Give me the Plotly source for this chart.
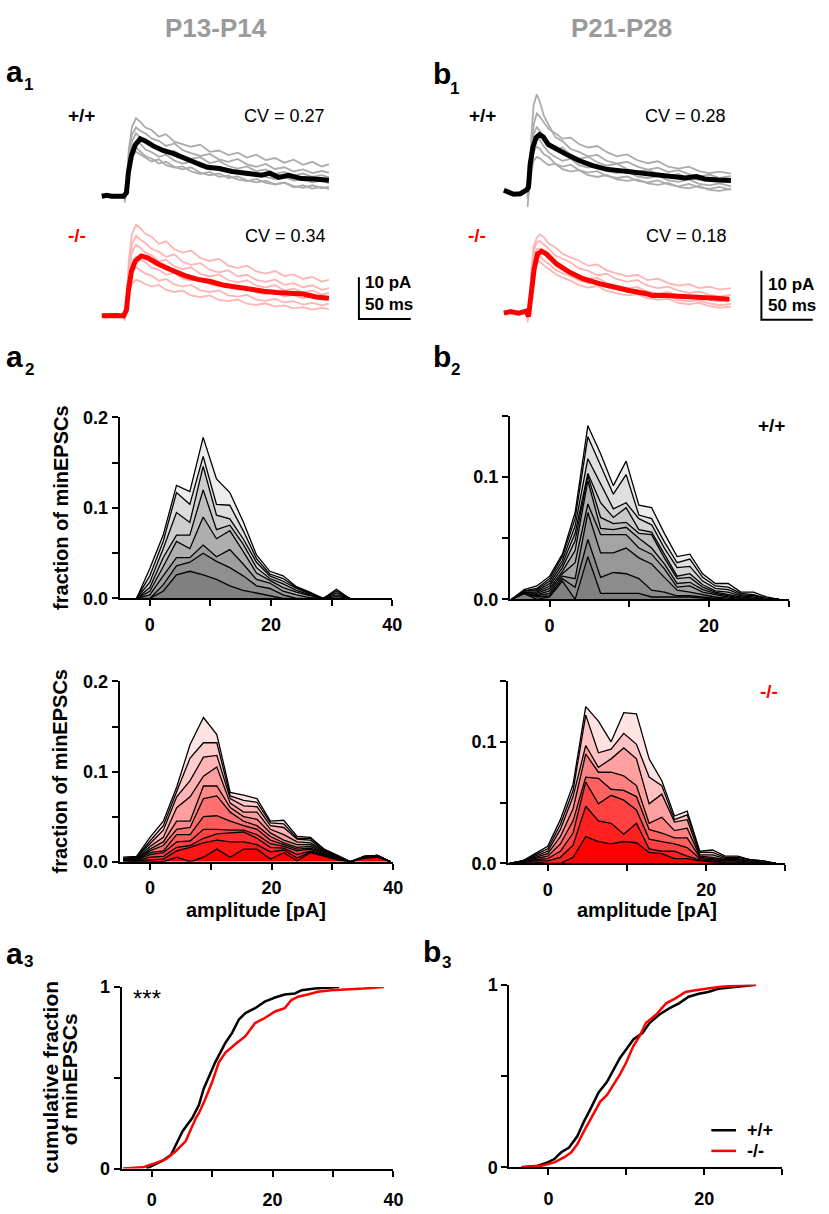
import plotly.graph_objects as go

W, H = 829, 1214
FONT = "Liberation Sans, Arial, Helvetica, sans-serif"

# ------------------------------------------------------------------ data
# a1: P13-P14 example minEPSCs (time in ms, amplitude in pA)
a1_sweep_t = [22, 24, 26, 29, 33, 37, 42, 48, 55, 62, 70, 78, 86, 95, 104, 113,
              122, 131, 140, 149, 158, 167, 176, 185, 194, 203, 212, 219]
a1_wt_sweeps = [
    [-0.5, 3, 11, 16.5, 18.6, 17.8, 16.4, 15.8, 14.2, 14.8, 13.0, 12.4, 11.8, 12.3, 10.6, 10.9, 9.8, 10.4, 9.2, 9.9, 8.6, 9.1, 8.0, 8.7, 7.5, 8.2, 7.1, 7.6],
    [-1.0, 2, 9.5, 14.6, 16.4, 15.6, 15.0, 13.8, 13.2, 12.0, 12.6, 11.0, 10.3, 9.6, 10.1, 8.8, 8.2, 8.9, 7.6, 7.0, 7.7, 6.5, 6.9, 5.9, 6.4, 5.5, 6.0, 5.6],
    [-0.3, 1.5, 8.5, 13.0, 15.0, 14.0, 13.4, 12.1, 11.5, 10.2, 10.8, 9.4, 8.9, 9.3, 7.9, 8.4, 7.2, 6.6, 7.1, 6.0, 6.4, 5.3, 5.8, 4.9, 5.4, 4.6, 5.0, 4.5],
    [-1.5, 1.0, 7.5, 11.6, 13.0, 12.6, 11.2, 10.5, 9.4, 9.9, 8.5, 7.8, 8.2, 7.0, 6.4, 6.9, 5.7, 6.1, 5.0, 5.5, 4.6, 4.1, 4.6, 3.7, 4.0, 3.3, 3.7, 3.1],
    [-0.8, 0.8, 6.0, 9.4, 10.6, 10.0, 9.2, 8.3, 8.8, 7.4, 6.8, 7.1, 5.9, 5.3, 5.8, 4.6, 4.9, 4.0, 3.6, 4.1, 3.2, 2.8, 3.3, 2.4, 2.0, 2.6, 1.9, 2.3],
    [-0.4, 1.2, 6.8, 10.3, 11.6, 10.8, 9.6, 9.0, 7.8, 8.2, 7.0, 6.4, 6.9, 5.6, 5.0, 5.4, 4.3, 4.7, 3.8, 3.3, 3.7, 2.8, 3.2, 2.1, 2.6, 1.8, 2.2, 1.7],
]
a1_ko_sweeps = [
    [-0.6, 4, 13, 19.5, 21.7, 21.0, 19.6, 18.9, 17.2, 17.8, 15.9, 15.1, 15.6, 13.8, 13.1, 13.6, 12.0, 11.4, 12.0, 10.6, 10.1, 10.7, 9.5, 9.9, 8.8, 9.3, 8.2, 8.6],
    [-1.2, 3, 11, 17, 19.1, 18.2, 17.4, 16.0, 15.3, 14.1, 14.7, 12.9, 12.2, 12.6, 11.0, 10.4, 10.9, 9.4, 9.8, 8.6, 8.1, 8.7, 7.4, 7.8, 6.8, 7.3, 6.2, 6.6],
    [-0.3, 2.5, 10, 15, 17.0, 16.3, 15.1, 14.5, 13.0, 13.4, 11.8, 11.1, 11.6, 10.0, 9.4, 9.9, 8.5, 8.0, 8.5, 7.2, 6.8, 7.3, 6.1, 6.5, 5.6, 6.0, 5.1, 5.5],
    [-0.9, 2, 8.5, 12.5, 14.1, 13.5, 12.8, 11.5, 11.0, 9.8, 10.3, 8.9, 8.4, 8.9, 7.5, 7.0, 7.5, 6.3, 6.7, 5.6, 5.2, 5.7, 4.6, 5.0, 4.2, 4.7, 3.9, 4.4],
    [-0.5, 1.5, 7, 10.3, 11.6, 11.0, 10.1, 9.6, 8.4, 8.8, 7.5, 7.0, 7.4, 6.1, 5.7, 6.1, 4.9, 4.6, 5.0, 3.9, 3.6, 4.1, 3.2, 3.5, 2.7, 3.1, 2.5, 2.9],
    [-1.0, 1.0, 5, 7.6, 8.6, 8.3, 7.6, 7.0, 7.4, 6.2, 5.7, 6.0, 4.9, 4.5, 4.9, 3.8, 3.5, 3.9, 2.9, 2.6, 3.0, 2.2, 2.5, 1.8, 2.1, 1.5, 1.9, 1.6],
]
a1_wt_mean_t = [0, 4.8, 9.5, 14.3, 21, 23.8, 25.7, 28.6, 32.4, 37.1, 41.9, 49.5, 59, 68.6,
                80, 92.4, 101.9, 113.3, 125.7, 140, 154.3, 161.9, 170.5, 180, 192.4, 204.8, 219]
a1_wt_mean_i = [0, 0.2, 0, 0.1, 0, 0.8, 5.7, 9.7, 12.3, 13.7, 13.2, 12.0, 10.9, 10.2,
                9.2, 7.8, 6.9, 6.6, 5.9, 5.5, 5.0, 5.5, 4.5, 5.0, 4.2, 4.1, 3.8]
a1_ko_mean_t = [0, 4.8, 9.5, 14.3, 21, 23.8, 25.7, 28.6, 32.4, 38.1, 44.8, 54.3, 66.7,
                80, 92.4, 104.8, 118.1, 130.5, 142.9, 156.2, 168.6, 181, 194.3, 206.7, 219]
a1_ko_mean_i = [0, 0.1, -0.1, 0.1, 0, 1.4, 6.1, 10.6, 13.1, 14.3, 13.8, 12.4, 11.0,
                9.6, 8.7, 8.2, 7.3, 6.8, 6.3, 5.9, 5.6, 5.4, 5.2, 4.5, 4.2]

# b1: P21-P28 example minEPSCs
b1_sweep_t = [23, 25, 27, 29, 32, 35, 39, 44, 50, 57, 65, 73, 82, 91, 100, 110,
              120, 130, 140, 150, 160, 170, 180, 190, 200, 210, 221]
b1_wt_sweeps = [
    [-3.5, 2, 12, 17.5, 19.7, 18.2, 15.3, 13.4, 11.0, 10.2, 8.6, 8.0, 7.1, 7.4, 6.2, 5.6, 6.0, 5.0, 4.4, 4.8, 3.9, 4.3, 3.5, 3.0, 3.4, 2.7, 3.1],
    [-1.5, 1, 8, 13.5, 15.8, 15.2, 14.0, 12.6, 11.8, 10.7, 10.9, 9.6, 8.9, 9.2, 8.0, 7.1, 7.5, 6.3, 5.7, 6.1, 5.0, 4.6, 5.0, 4.1, 3.7, 4.0, 3.6],
    [-0.8, 1, 7, 11.5, 13.1, 12.3, 11.0, 9.8, 8.4, 8.9, 7.4, 6.6, 7.0, 5.9, 5.2, 5.6, 4.5, 4.0, 4.4, 3.5, 3.1, 3.5, 2.7, 2.3, 2.7, 2.0, 2.4],
    [-1.2, 0.8, 6, 9.6, 11.0, 10.4, 9.1, 7.8, 7.0, 6.2, 6.6, 5.3, 4.8, 5.2, 4.1, 3.7, 4.1, 3.0, 2.7, 3.1, 2.2, 1.9, 2.4, 1.5, 1.2, 1.6, 1.0],
    [-0.5, 0.5, 5, 8.0, 9.1, 8.6, 7.5, 6.9, 5.6, 5.0, 5.4, 4.3, 3.8, 4.1, 3.1, 2.7, 3.0, 2.1, 1.8, 2.2, 1.4, 1.0, 1.5, 0.8, 0.5, 0.9, 0.3],
    [-0.9, 0.3, 4, 6.2, 7.0, 6.7, 6.0, 5.3, 5.6, 4.5, 4.0, 4.3, 3.3, 2.9, 3.3, 2.4, 2.1, 2.4, 1.6, 1.3, 1.7, 0.9, 0.6, 1.1, 0.3, 0.1, 0.5],
]
b1_ko_sweeps = [
    [-0.5, 2, 9, 13.5, 15.2, 15.9, 15.3, 14.0, 13.3, 12.0, 11.2, 10.6, 9.5, 9.8, 8.6, 8.0, 7.4, 7.7, 6.6, 6.9, 6.0, 5.5, 5.8, 5.0, 5.3, 4.7, 5.0],
    [-1.2, 1.5, 8, 12.5, 14.3, 14.6, 13.8, 12.9, 11.6, 10.9, 10.2, 9.0, 8.5, 7.6, 7.9, 6.8, 6.3, 6.6, 5.5, 5.0, 5.3, 4.5, 4.0, 4.3, 3.6, 3.3, 3.6],
    [-0.8, 1.2, 7, 11.5, 12.9, 13.1, 12.2, 11.0, 10.1, 9.3, 8.1, 7.6, 6.9, 7.1, 6.0, 5.5, 5.0, 5.2, 4.3, 3.9, 4.2, 3.4, 3.0, 3.3, 2.6, 2.3, 2.6],
    [-2.0, 0.8, 6, 10.0, 11.3, 11.5, 10.6, 9.9, 8.7, 8.0, 7.4, 6.6, 6.0, 6.2, 5.2, 4.7, 4.3, 4.5, 3.6, 3.2, 3.4, 2.6, 2.3, 2.5, 1.9, 1.5, 1.8],
    [-1.0, 0.5, 5.5, 9.0, 10.3, 10.4, 9.6, 8.8, 7.9, 7.1, 6.5, 5.6, 5.1, 5.4, 4.4, 3.9, 3.5, 3.7, 2.9, 2.6, 2.8, 2.0, 1.7, 2.0, 1.3, 1.0, 1.2],
]
b1_wt_mean_t = [0, 4.8, 9.6, 16, 22.4, 24, 25.6, 28.2, 31.4, 34.6, 38.5, 43.3, 51.3, 60.9,
                73.7, 86.5, 99.4, 112.2, 125, 137.8, 150.6, 163.5, 176.3, 187.5, 195.5, 208.3, 221]
b1_wt_mean_i = [0.2, -0.3, -0.6, -0.5, 0.3, 0.9, 5.5, 8.9, 10.9, 11.5, 11.0, 9.5, 8.5, 7.5,
                6.2, 5.2, 4.5, 4.2, 3.9, 3.5, 3.2, 2.9, 2.7, 3.0, 2.5, 2.3, 2.2]
b1_ko_mean_t = [0, 6.4, 14.4, 21.8, 24, 26.3, 29.5, 32.7, 36.8, 41.6, 51.3, 64.1, 76.9,
                93, 105.8, 121.8, 137.8, 144.2, 157, 169.9, 185.9, 201.9, 219.5]
b1_ko_mean_i = [-0.1, 0.2, -0.1, 0.3, -0.8, 3.5, 8.9, 11.9, 12.5, 11.9, 9.9, 8.2, 6.9,
                5.9, 5.2, 4.5, 3.9, 3.5, 3.5, 3.4, 3.2, 3.0, 2.7]
cv_labels = ["CV = 0.27", "CV = 0.34", "CV = 0.28", "CV = 0.18"]

# a2 / b2: stacked per-cell amplitude histograms (cumulative layer tops, bottom -> top)
a2_bins = [-2.2, 0, 2.2, 4.4, 6.6, 8.8, 11, 13.2, 15.4, 17.6, 19.8, 22, 24.2, 26.4, 28.6, 30.8, 33]
a2_wt_stack = [
    [0, 0, 0.008, 0.026, 0.030, 0.026, 0.021, 0.014, 0.009, 0.006, 0.003, 0, 0, 0, 0, 0, 0],
    [0, 0, 0.015, 0.036, 0.040, 0.050, 0.041, 0.034, 0.025, 0.014, 0.011, 0.004, 0, 0, 0, 0, 0],
    [0, 0.004, 0.025, 0.045, 0.045, 0.059, 0.046, 0.054, 0.038, 0.021, 0.017, 0.008, 0.004, 0.001, 0, 0, 0],
    [0, 0.008, 0.035, 0.063, 0.055, 0.090, 0.066, 0.075, 0.052, 0.028, 0.020, 0.012, 0.007, 0.003, 0, 0.002, 0],
    [0, 0.012, 0.045, 0.070, 0.070, 0.120, 0.076, 0.081, 0.060, 0.034, 0.022, 0.016, 0.009, 0.004, 0, 0.004, 0],
    [0, 0.018, 0.055, 0.095, 0.084, 0.146, 0.092, 0.088, 0.066, 0.040, 0.025, 0.019, 0.011, 0.005, 0, 0.006, 0],
    [0, 0.025, 0.063, 0.117, 0.104, 0.157, 0.104, 0.103, 0.075, 0.044, 0.027, 0.022, 0.012, 0.006, 0, 0.008, 0],
    [0, 0.033, 0.070, 0.125, 0.118, 0.178, 0.132, 0.117, 0.085, 0.048, 0.030, 0.025, 0.013, 0.007, 0, 0.010, 0],
]
a2_ko_bins = [-4.4, -2.2, 0, 2.2, 4.4, 6.6, 8.8, 11, 13.2, 15.4, 17.6, 19.8, 22, 24.2, 26.4,
              28.6, 30.8, 33, 35.2, 37.4, 39.6]
a2_ko_stack = [
    [0.001, 0, 0, 0, 0.005, 0, 0.005, 0.014, 0.005, 0.014, 0.014, 0.003, 0.010, 0.001, 0.010, 0.006, 0.002, 0, 0.004, 0.005, 0],
    [0.001, 0.001, 0.002, 0.003, 0.012, 0.016, 0.021, 0.024, 0.022, 0.022, 0.019, 0.011, 0.013, 0.004, 0.011, 0.007, 0.003, 0, 0.004, 0.005, 0],
    [0.002, 0.001, 0.005, 0.006, 0.016, 0.018, 0.026, 0.031, 0.032, 0.033, 0.026, 0.016, 0.015, 0.008, 0.012, 0.008, 0.003, 0, 0.005, 0.006, 0],
    [0.002, 0.002, 0.008, 0.010, 0.022, 0.023, 0.036, 0.036, 0.035, 0.035, 0.030, 0.020, 0.017, 0.012, 0.014, 0.009, 0.004, 0, 0.005, 0.006, 0],
    [0.002, 0.002, 0.010, 0.012, 0.030, 0.030, 0.050, 0.051, 0.045, 0.040, 0.036, 0.024, 0.019, 0.014, 0.015, 0.010, 0.004, 0, 0.005, 0.006, 0],
    [0.003, 0.003, 0.012, 0.018, 0.036, 0.038, 0.070, 0.073, 0.055, 0.045, 0.040, 0.028, 0.021, 0.016, 0.017, 0.011, 0.005, 0, 0.005, 0.006, 0],
    [0.003, 0.003, 0.014, 0.022, 0.045, 0.045, 0.084, 0.084, 0.060, 0.050, 0.047, 0.032, 0.024, 0.019, 0.019, 0.012, 0.005, 0, 0.005, 0.007, 0],
    [0.003, 0.004, 0.017, 0.027, 0.060, 0.072, 0.095, 0.105, 0.065, 0.055, 0.055, 0.036, 0.030, 0.022, 0.021, 0.013, 0.006, 0, 0.006, 0.007, 0],
    [0.004, 0.005, 0.020, 0.035, 0.072, 0.090, 0.116, 0.118, 0.070, 0.062, 0.061, 0.040, 0.038, 0.025, 0.024, 0.013, 0.006, 0, 0.006, 0.007, 0],
    [0.004, 0.005, 0.023, 0.040, 0.078, 0.115, 0.132, 0.132, 0.073, 0.068, 0.066, 0.043, 0.042, 0.026, 0.026, 0.014, 0.007, 0, 0.006, 0.007, 0],
    [0.005, 0.006, 0.027, 0.045, 0.083, 0.130, 0.160, 0.141, 0.077, 0.074, 0.070, 0.045, 0.046, 0.028, 0.027, 0.014, 0.007, 0, 0.006, 0.007, 0],
]
b2_bins = [-4.8, -3.2, -1.6, 0, 1.6, 3.2, 4.8, 6.4, 8.0, 9.6, 11.2, 12.8, 14.4, 16.0,
           17.6, 19.2, 20.8, 22.4, 24.0, 25.6, 27.2, 28.8]
b2_wt_stack = [
    [0, 0.005, 0.000, 0.002, 0.015, 0.000, 0.035, 0.005, 0.005, 0.005, 0.005, 0.002, 0.002, 0.0015, 0.002, 0.001, 0, 0, 0, 0, 0, 0],
    [0, 0.005, 0.002, 0.003, 0.017, 0.010, 0.049, 0.018, 0.022, 0.021, 0.017, 0.0075, 0.006, 0.003, 0.003, 0.002, 0.001, 0, 0, 0, 0, 0],
    [0, 0.005, 0.003, 0.005, 0.019, 0.017, 0.071, 0.038, 0.038, 0.042, 0.034, 0.029, 0.018, 0.0075, 0.006, 0.004, 0.002, 0.001, 0, 0, 0, 0],
    [0, 0.006, 0.004, 0.007, 0.021, 0.030, 0.078, 0.053, 0.053, 0.053, 0.042, 0.037, 0.025, 0.010, 0.011, 0.006, 0.004, 0.002, 0.001, 0, 0, 0],
    [0, 0.006, 0.005, 0.009, 0.023, 0.040, 0.097, 0.058, 0.057, 0.059, 0.050, 0.042, 0.029, 0.013, 0.014, 0.008, 0.005, 0.003, 0.001, 0.001, 0, 0],
    [0, 0.006, 0.006, 0.011, 0.026, 0.048, 0.101, 0.067, 0.062, 0.063, 0.054, 0.053, 0.034, 0.017, 0.018, 0.010, 0.006, 0.004, 0.002, 0.001, 0, 0],
    [0, 0.007, 0.007, 0.013, 0.029, 0.054, 0.103, 0.079, 0.067, 0.075, 0.057, 0.055, 0.037, 0.019, 0.021, 0.012, 0.007, 0.006, 0.003, 0.002, 0, 0],
    [0, 0.007, 0.008, 0.015, 0.032, 0.060, 0.115, 0.095, 0.074, 0.079, 0.066, 0.061, 0.042, 0.026, 0.027, 0.015, 0.009, 0.008, 0.004, 0.003, 0.001, 0],
    [0, 0.007, 0.009, 0.017, 0.035, 0.066, 0.133, 0.109, 0.086, 0.102, 0.069, 0.066, 0.047, 0.030, 0.033, 0.018, 0.011, 0.010, 0.005, 0.004, 0.001, 0],
    [0, 0.008, 0.011, 0.019, 0.037, 0.071, 0.142, 0.119, 0.093, 0.113, 0.077, 0.075, 0.054, 0.035, 0.037, 0.021, 0.013, 0.013, 0.006, 0.006, 0.002, 0],
]
b2_ko_stack = [
    [0, 0.001, 0.001, 0, 0, 0.005, 0.022, 0.018, 0.016, 0.018, 0.017, 0.009, 0.008, 0.004, 0.004, 0.002, 0.001, 0.001, 0.001, 0, 0, 0],
    [0, 0.001, 0.002, 0.002, 0.005, 0.015, 0.047, 0.035, 0.033, 0.024, 0.033, 0.012, 0.010, 0.010, 0.006, 0.003, 0.002, 0.001, 0.001, 0.001, 0, 0],
    [0, 0.001, 0.003, 0.004, 0.010, 0.025, 0.067, 0.049, 0.056, 0.052, 0.044, 0.020, 0.018, 0.016, 0.013, 0.004, 0.003, 0.002, 0.002, 0.001, 0, 0],
    [0, 0.002, 0.004, 0.006, 0.016, 0.035, 0.071, 0.070, 0.061, 0.060, 0.055, 0.028, 0.025, 0.021, 0.021, 0.005, 0.004, 0.003, 0.002, 0.001, 0.001, 0],
    [0, 0.002, 0.005, 0.008, 0.022, 0.045, 0.090, 0.075, 0.075, 0.072, 0.064, 0.033, 0.038, 0.027, 0.029, 0.006, 0.005, 0.003, 0.003, 0.002, 0.001, 0],
    [0, 0.002, 0.006, 0.010, 0.028, 0.055, 0.097, 0.079, 0.086, 0.095, 0.086, 0.049, 0.057, 0.034, 0.036, 0.007, 0.007, 0.004, 0.004, 0.002, 0.001, 0],
    [0, 0.002, 0.007, 0.012, 0.032, 0.060, 0.122, 0.091, 0.094, 0.107, 0.098, 0.071, 0.064, 0.036, 0.040, 0.009, 0.009, 0.005, 0.005, 0.003, 0.002, 0],
    [0, 0.002, 0.008, 0.014, 0.036, 0.065, 0.129, 0.117, 0.100, 0.124, 0.123, 0.086, 0.068, 0.039, 0.043, 0.010, 0.011, 0.006, 0.006, 0.003, 0.002, 0],
]

# a3 / b3: cumulative amplitude distributions
a3_wt_x = [-0.9, 0.16, 1.8, 3.2, 4.0, 5.1, 6.7, 7.8, 8.6, 9.5, 10.5, 12.2, 13.3, 14.4, 15.5,
           17.1, 18.7, 20.4, 22, 23.7, 24.8, 27, 29.7, 31]
a3_wt_y = [0, 0.016, 0.043, 0.076, 0.134, 0.206, 0.278, 0.35, 0.44, 0.513, 0.585, 0.693, 0.747,
           0.82, 0.856, 0.883, 0.919, 0.942, 0.958, 0.964, 0.982, 0.991, 0.995, 1.0]
a3_ko_x = [-4.75, -1.5, 0.16, 2.35, 4.0, 5.6, 7.3, 7.8, 8.9, 10.0, 11.1, 12.2, 13.8, 15.5, 17.1,
           18.7, 20.4, 22.0, 23.1, 24.2, 25.8, 27.5, 29.7, 32.4, 35.1, 38.4]
a3_ko_y = [0, 0.007, 0.025, 0.052, 0.097, 0.15, 0.278, 0.305, 0.386, 0.477, 0.585, 0.639, 0.684,
           0.729, 0.801, 0.829, 0.865, 0.883, 0.928, 0.946, 0.958, 0.973, 0.982, 0.986, 0.991, 1.0]
b3_wt_x = [-3.45, -1.35, -0.1, 0.76, 1.6, 2.65, 3.7, 4.55, 5.4, 6.44, 7.5, 8.34, 9.2, 10.0, 10.9,
           12.1, 12.97, 14.2, 15.5, 16.76, 18.0, 19.3, 20.5, 21.8, 23.5, 25.2, 26.65]
b3_wt_y = [0, 0.009, 0.027, 0.045, 0.081, 0.108, 0.17, 0.25, 0.32, 0.41, 0.467, 0.53, 0.60, 0.646,
           0.70, 0.736, 0.79, 0.835, 0.87, 0.898, 0.934, 0.95, 0.96, 0.978, 0.987, 0.995, 1.0]
b3_ko_x = [-3.45, -0.9, 0.76, 2.0, 2.9, 3.7, 4.55, 5.4, 6.65, 7.5, 8.34, 9.2, 10.0, 10.9, 11.7,
           12.5, 13.8, 15.1, 16.3, 17.6, 18.9, 20.5, 21.8, 24.3, 26.65]
b3_ko_y = [0, 0.009, 0.027, 0.054, 0.081, 0.126, 0.197, 0.26, 0.36, 0.395, 0.449, 0.51, 0.575,
           0.664, 0.718, 0.79, 0.835, 0.898, 0.925, 0.96, 0.97, 0.978, 0.987, 0.995, 1.0]

genotypes = ["+/+", "-/-"]
ages = ["P13-P14", "P21-P28"]

# ------------------------------------------------------------------ helpers
BLACK, RED = "#000000", "#ff0000"
GREY_SWEEP, PINK_SWEEP = "#ababab", "#ffb3b3"

fig = go.Figure()
layout = {}


def pxx(x):
    return x / W


def pxy(y):
    return 1 - y / H


def make_axis(idx, xbox, ybox, xr, yr, visible=True, xticks=None, yticks=None, xstand=0):
    xn = "xaxis" if idx == 1 else f"xaxis{idx}"
    yn = "yaxis" if idx == 1 else f"yaxis{idx}"
    common = dict(showgrid=False, zeroline=False, fixedrange=True)
    xa = dict(domain=[pxx(xbox[0]), pxx(xbox[1])], range=xr, anchor=f"y{idx}", **common)
    ya = dict(domain=[pxy(ybox[1]), pxy(ybox[0])], range=yr, anchor=f"x{idx}", **common)
    if not visible:
        xa["visible"] = False
        ya["visible"] = False
    else:
        style = dict(showline=True, linecolor="black", linewidth=2, ticks="outside",
                     ticklen=6, tickwidth=2, tickcolor="black",
                     tickfont=dict(family=FONT, size=18, color="black", weight="bold"))
        xa.update(style, tickmode="array", tickvals=xticks[0], ticktext=xticks[1],
                  ticklabelstandoff=xstand)
        ya.update(style, tickmode="array", tickvals=yticks[0], ticktext=yticks[1])
    layout[xn] = xa
    layout[yn] = ya
    return f"x{idx}", f"y{idx}"


def trace_axis(idx, xbox, ybox, origin, sx, sy):
    xr = [(xbox[0] - origin[0]) / sx, (xbox[1] - origin[0]) / sx]
    yr = [(origin[1] - ybox[1]) / sy, (origin[1] - ybox[0]) / sy]
    return make_axis(idx, xbox, ybox, xr, yr, visible=False)


annotations = []
shapes = []


def ann(text, x, y, size, color="black", xanchor="center", yanchor="middle", angle=0):
    annotations.append(dict(text=text, x=pxx(x), y=pxy(y), xref="paper", yref="paper",
                            xanchor=xanchor, yanchor=yanchor, showarrow=False, textangle=angle,
                            font=dict(family=FONT, size=size, color=color)))


def lerp_colors(c0, c1, n):
    out = []
    for k in range(n):
        f = k / (n - 1)
        r, g, b = (round(c0[j] + (c1[j] - c0[j]) * f) for j in range(3))
        out.append(f"rgb({r},{g},{b})")
    return out


# ------------------------------------------------------------------ a1 / b1 traces
trace_panels = [
    (1, (95, 440), (80, 200), (103, 189.3), 1.05, 4.26, a1_sweep_t, a1_wt_sweeps, a1_wt_mean_t, a1_wt_mean_i, GREY_SWEEP, BLACK),
    (2, (95, 440), (205, 330), (103, 311.0), 1.05, 4.26, a1_sweep_t, a1_ko_sweeps, a1_ko_mean_t, a1_ko_mean_i, PINK_SWEEP, RED),
    (3, (500, 829), (75, 200), (510, 184.3), 1.04, 5.0, b1_sweep_t, b1_wt_sweeps, b1_wt_mean_t, b1_wt_mean_i, GREY_SWEEP, BLACK),
    (4, (500, 829), (205, 330), (510, 307.7), 1.04, 5.0, b1_sweep_t, b1_ko_sweeps, b1_ko_mean_t, b1_ko_mean_i, PINK_SWEEP, RED),
]
axis_scale = {}
for idx, xbox, ybox, org, sx, sy, st, sweeps, mt, mi, scol, mcol in trace_panels:
    xa, ya = trace_axis(idx, xbox, ybox, org, sx, sy)
    axis_scale[idx] = (org, sx, sy, xa, ya)
    for sw in sweeps:
        fig.add_trace(go.Scatter(x=st, y=sw, xaxis=xa, yaxis=ya, mode="lines",
                                 line=dict(color=scol, width=1.8), showlegend=False, hoverinfo="skip"))
    fig.add_trace(go.Scatter(x=mt, y=mi, xaxis=xa, yaxis=ya, mode="lines",
                             line=dict(color=mcol, width=5), showlegend=False, hoverinfo="skip"))

# scale bars (10 pA / 50 ms), drawn in the -/- trace axes
for idx, corner_px, txt_x, ty1, ty2 in [(2, (363.3, 314.3), 367, 277, 299.5),
                                       (4, (770.7, 315.0), 775, 279, 300.5)]:
    org, sx, sy, xa, ya = axis_scale[idx]
    t0 = (corner_px[0] - org[0]) / sx
    i0 = (org[1] - corner_px[1]) / sy
    shapes.append(dict(type="path", xref=xa, yref=ya,
                       path=f"M {t0} {i0 + 10} L {t0} {i0} L {t0 + 50} {i0}",
                       line=dict(color="black", width=2)))
    ann("<b>10 pA</b>", txt_x, ty1, 17, xanchor="left")
    ann("<b>50 ms</b>", txt_x, ty2, 17, xanchor="left")

# ------------------------------------------------------------------ a2 / b2 histograms
grey_dark, grey_light = (128, 128, 128), (236, 236, 236)
red_dark, red_light = (255, 0, 0), (255, 226, 226)
hist_panels = [
    (5, (121, 397), (414.3, 598.3), [-5, 40], [0, 0.2], a2_bins, a2_wt_stack, grey_dark, grey_light,
     ([0, 10, 20, 30, 40], ["0", "", "20", "", "40"]), ([0, 0.05, 0.1, 0.15, 0.2], ["0.0", "", "0.1", "", "0.2"])),
    (6, (516, 798.3), (412.7, 599.3), [-5, 30], [0, 0.15], b2_bins, b2_wt_stack, grey_dark, grey_light,
     ([0, 10, 20, 30], ["0", "", "20", ""]), ([0, 0.05, 0.1, 0.15], ["0.0", "", "0.1", ""])),
    (7, (121, 398), (682.7, 866), [-5, 40], [0, 0.2], a2_ko_bins, a2_ko_stack, red_dark, red_light,
     ([0, 10, 20, 30, 40], ["0", "", "20", "", "40"]), ([0, 0.05, 0.1, 0.15, 0.2], ["0.0", "", "0.1", "", "0.2"])),
    (8, (514.3, 795), (682.3, 867.7), [-5, 30], [0, 0.15], b2_bins, b2_ko_stack, red_dark, red_light,
     ([0, 10, 20, 30], ["0", "", "20", ""]), ([0, 0.05, 0.1, 0.15], ["0.0", "", "0.1", ""])),
]
for idx, xbox, ybox, xr, yr, bins, stack, c0, c1, xt, yt in hist_panels:
    xa, ya = make_axis(idx, xbox, ybox, xr, yr, xticks=xt, yticks=yt, xstand=3)
    cols = lerp_colors(c0, c1, len(stack))
    for k, layer in enumerate(stack):
        fig.add_trace(go.Scatter(x=bins, y=layer, xaxis=xa, yaxis=ya, mode="lines",
                                 line=dict(color="black", width=1.3),
                                 fill="tozeroy" if k == 0 else "tonexty", fillcolor=cols[k],
                                 showlegend=False, hoverinfo="skip"))

# ------------------------------------------------------------------ a3 / b3 cumulative
cdf_panels = [
    (9, (123, 398.3), (993.3, 1178), [-5, 40], (a3_wt_x, a3_wt_y), (a3_ko_x, a3_ko_y),
     ([0, 10, 20, 30, 40], ["0", "", "20", "", "40"])),
    (10, (515.7, 791.7), (991, 1176.7), [-5, 30], (b3_wt_x, b3_wt_y), (b3_ko_x, b3_ko_y),
     ([0, 10, 20, 30], ["0", "", "20", ""])),
]
for idx, xbox, ybox, xr, wt, ko, xt in cdf_panels:
    xa, ya = make_axis(idx, xbox, ybox, xr, [0, 1], xticks=xt,
                       yticks=([0, 0.5, 1], ["0", "", "1"]), xstand=8)
    fig.add_trace(go.Scatter(x=wt[0], y=wt[1], xaxis=xa, yaxis=ya, mode="lines",
                             line=dict(color=BLACK, width=2.5), showlegend=False, hoverinfo="skip"))
    fig.add_trace(go.Scatter(x=ko[0], y=ko[1], xaxis=xa, yaxis=ya, mode="lines",
                             line=dict(color=RED, width=2.5), showlegend=False, hoverinfo="skip"))

# legend in b3
for k, (g, col) in enumerate(zip(genotypes, [BLACK, RED])):
    yy = 1139 + 21 * k
    shapes.append(dict(type="line", xref="paper", yref="paper", x0=pxx(720), x1=pxx(745),
                       y0=pxy(yy), y1=pxy(yy), line=dict(color=col, width=2.5)))
    ann(f"<b>{g}</b>", 754, yy, 18, xanchor="left")

# ------------------------------------------------------------------ text
ann(f"<b>{ages[0]}</b>", 219, 18, 26, color="#9a9a9a")
ann(f"<b>{ages[1]}</b>", 629, 18, 26, color="#9a9a9a")

for letter, lx, ly, sub, sx_, sy_ in [("a", 15, 62.5, "1", 29, 76), ("b", 447, 64.5, "1", 460, 80),
                                      ("a", 15, 352.5, "2", 30, 366), ("b", 447, 352.5, "2", 461, 366),
                                      ("a", 15, 959.5, "3", 28.5, 967.5), ("b", 437.5, 957.5, "3", 451.5, 968)]:
    ann(f"<b>{letter}</b>", lx, ly, 30)
    ann(f"<b>{sub}</b>", sx_, sy_, 17)

ann(f"<b>{genotypes[0]}</b>", 82, 107, 19)
ann(f"<b>{genotypes[1]}</b>", 78, 229, 19, color=RED)
ann(f"<b>{genotypes[0]}</b>", 488, 107, 19)
ann(f"<b>{genotypes[1]}</b>", 483, 229, 19, color=RED)
ann(cv_labels[0], 331, 107.5, 18, xanchor="right")
ann(cv_labels[1], 332, 230, 18, xanchor="right")
ann(cv_labels[2], 737, 108, 18, xanchor="right")
ann(cv_labels[3], 738, 230, 18, xanchor="right")

ann(f"<b>{genotypes[0]}</b>", 781, 422, 19)
ann(f"<b>{genotypes[1]}</b>", 778, 693, 19, color=RED)

ann("<b>fraction of minEPSCs</b>", 61, 506, 20, angle=-90)
ann("<b>fraction of minEPSCs</b>", 61, 774, 20, angle=-90)
ann("<b>amplitude [pA]</b>", 259.5, 915, 20)
ann("<b>amplitude [pA]</b>", 655, 915, 20)
ann("<b>cumulative fraction</b>", 51, 1085, 21, angle=-90)
ann("<b>of minEPSCs</b>", 70, 1087, 21, angle=-90)
ann("***", 149, 1005, 24)

fig.update_layout(
    width=W, height=H, margin=dict(l=0, r=0, t=0, b=0),
    paper_bgcolor="white", plot_bgcolor="white",
    font=dict(family=FONT, color="black"),
    showlegend=False, annotations=annotations, shapes=shapes,
    **layout,
)

fig.write_html("out.html", config={"displayModeBar": False},
               post_script="document.body.style.margin='0px';document.body.style.overflow='hidden';")
